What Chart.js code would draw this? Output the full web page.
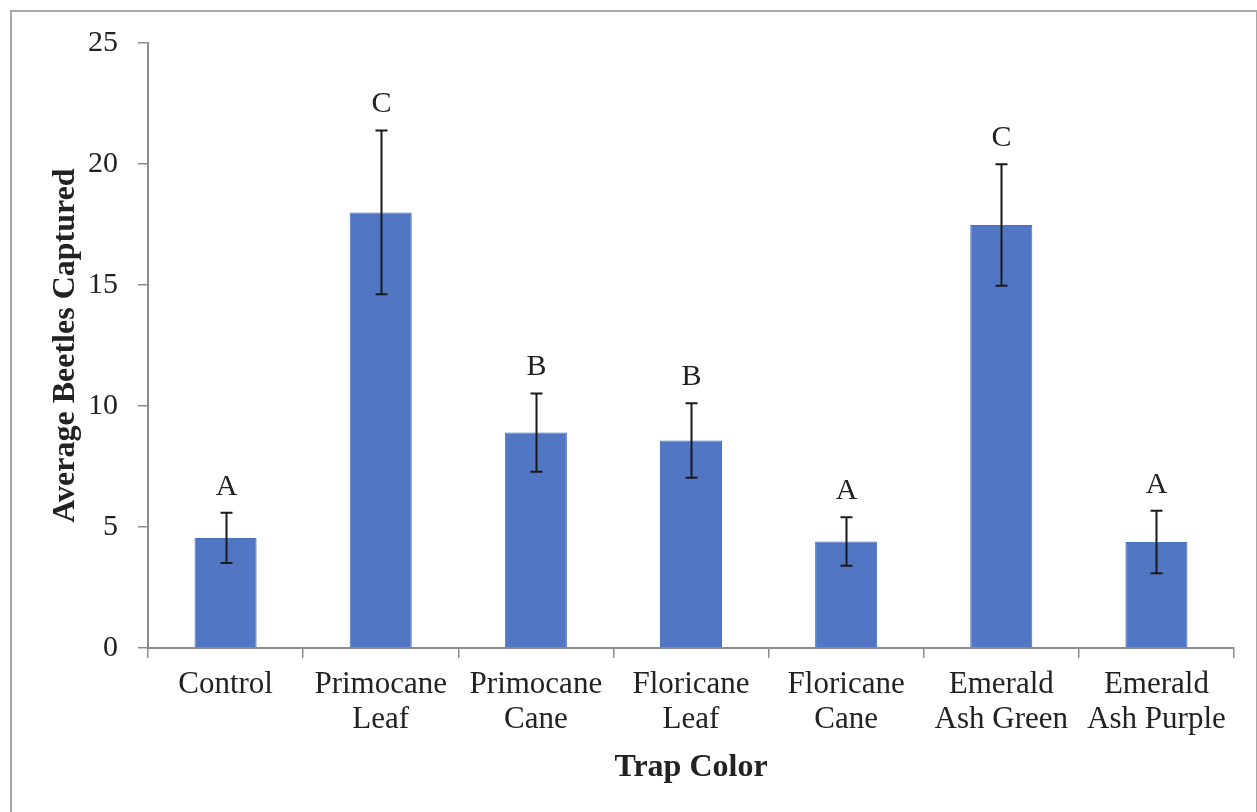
<!DOCTYPE html>
<html>
<head>
<meta charset="utf-8">
<script src="https://cdn.jsdelivr.net/npm/chart.js@4"></script>
<style>
  html, body { margin: 0; padding: 0; background: #fff; overflow: hidden; }
  #frame { position: absolute; left: 10px; top: 10px; width: 1244px; height: 840px; border: 2px solid #a8a8a8; }
  #wrap { position: absolute; left: 0; top: 0; width: 1257px; height: 812px; }
</style>
</head>
<body>
<div id="frame"></div>
<div id="wrap"><canvas id="chart" width="1257" height="812"></canvas></div>
<script>
// categories (two-line labels)
const categories = [
    ['Control'],
    ['Primocane', 'Leaf'],
    ['Primocane', 'Cane'],
    ['Floricane', 'Leaf'],
    ['Floricane', 'Cane'],
    ['Emerald', 'Ash Green'],
    ['Emerald', 'Ash Purple']
];
// mean beetles captured per trap
const means = [4.55, 18.0, 8.9, 8.57, 4.4, 17.48, 4.38];
// standard error (error bar half-length)
const errors = [1.04, 3.38, 1.62, 1.54, 1.0, 2.51, 1.29];
// significance letters
const letters = ['A', 'C', 'B', 'B', 'A', 'C', 'A'];
const yTicks = [0, 5, 10, 15, 20, 25];

const serif = '"Liberation Serif", "Times New Roman", serif';
const axisGray = '#8c8c8c';

// draws error bars and letters on top of the bars
const errorBarPlugin = {
    id: 'errorBars',
    afterDatasetsDraw(chart) {
        const ctx = chart.ctx;
        const y = chart.scales.y;
        const bars = chart.getDatasetMeta(0).data;
        ctx.save();
        ctx.strokeStyle = '#1a1a1a';
        ctx.lineWidth = 2;
        bars.forEach((bar, i) => {
            const top = y.getPixelForValue(means[i] + errors[i]);
            const bot = y.getPixelForValue(means[i] - errors[i]);
            const x = Math.round(bar.x) + 0.5;
            ctx.beginPath();
            ctx.moveTo(x, top); ctx.lineTo(x, bot);
            ctx.moveTo(x - 6, top); ctx.lineTo(x + 6, top);
            ctx.moveTo(x - 6, bot); ctx.lineTo(x + 6, bot);
            ctx.stroke();

            ctx.fillStyle = '#222';
            ctx.font = '30px ' + serif;
            ctx.textAlign = 'center';
            ctx.textBaseline = 'middle';
            ctx.fillText(letters[i], x, top - 26);
        });
        ctx.restore();
    }
};

new Chart(document.getElementById('chart'), {
    type: 'bar',
    data: {
        labels: categories,
        datasets: [{
            data: means,
            backgroundColor: '#5076c4',
            borderColor: '#4a6fbd',
            borderWidth: 1,
            barPercentage: 0.4,
            categoryPercentage: 1.0
        }]
    },
    options: {
        responsive: false,
        animation: false,
        events: [],
        layout: { padding: { left: 0, top: 43, right: 23, bottom: 0 } },
        plugins: {
            legend: { display: false },
            tooltip: { enabled: false }
        },
        scales: {
            x: {
                offset: true,
                grid: {
                    offset: true,
                    drawOnChartArea: false,
                    drawTicks: true,
                    tickLength: 10,
                    color: axisGray,
                    lineWidth: 1.5
                },
                border: { color: axisGray, width: 2 },
                ticks: {
                    color: '#222',
                    padding: 9,
                    maxRotation: 0,
                    autoSkip: false,
                    font: { family: serif, size: 31, lineHeight: 1.13 }
                },
                title: {
                    display: true,
                    text: 'Trap Color',
                    color: '#222',
                    padding: { top: 0, bottom: 25 },
                    font: { family: serif, size: 32, weight: 'bold', lineHeight: 1.2 }
                },
                afterFit(scale) { scale.height = 164; }
            },
            y: {
                min: 0,
                max: 25,
                afterBuildTicks(scale) { scale.ticks = yTicks.map(v => ({ value: v })); },
                grid: {
                    drawOnChartArea: false,
                    drawTicks: true,
                    tickLength: 10,
                    color: axisGray,
                    lineWidth: 1.5
                },
                border: { color: axisGray, width: 2 },
                ticks: {
                    color: '#222',
                    padding: 20,
                    font: { family: serif, size: 30 }
                },
                title: {
                    display: true,
                    text: 'Average Beetles Captured',
                    color: '#222',
                    padding: { top: 47, bottom: 0 },
                    font: { family: serif, size: 32, weight: 'bold', lineHeight: 1.2 }
                },
                afterFit(scale) { scale.width = 148; }
            }
        }
    },
    plugins: [errorBarPlugin]
});
</script>
</body>
</html>
